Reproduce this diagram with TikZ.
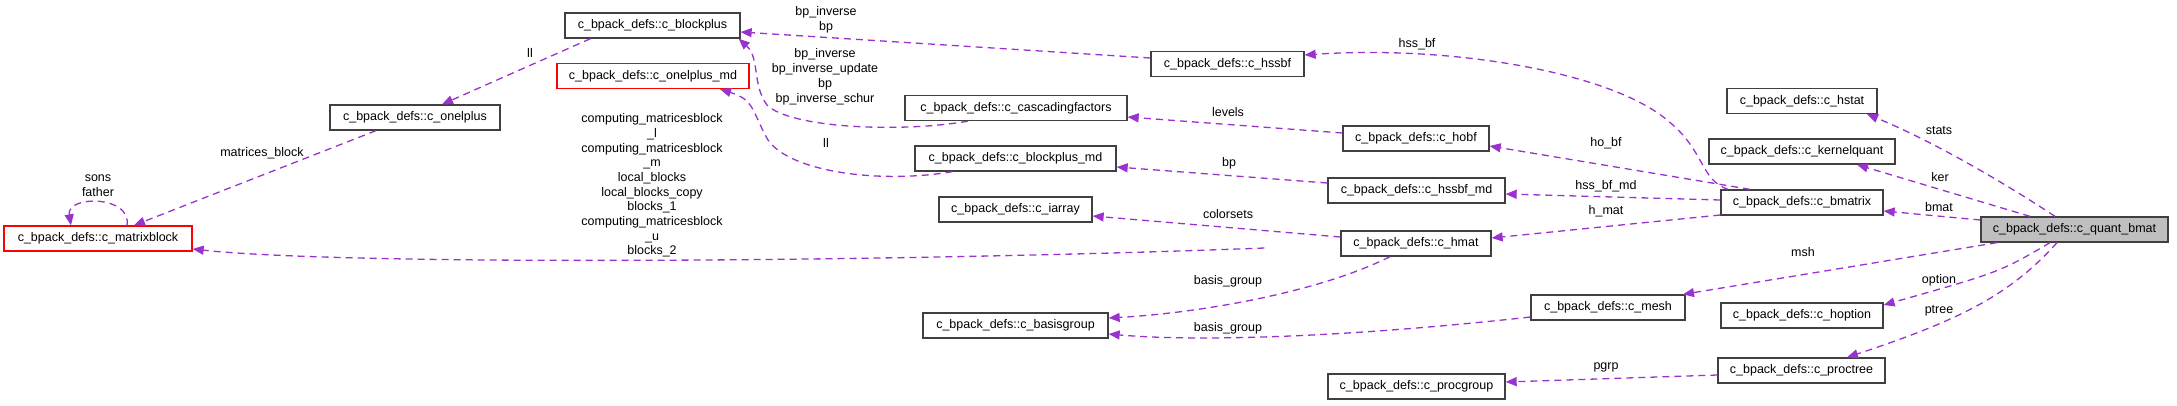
\documentclass[tikz,border=0pt]{standalone}
\usepackage{fontspec}
\setmainfont{Liberation Sans}
\usetikzlibrary{arrows.meta}
\definecolor{edgepurple}{RGB}{154,50,205}
\tikzset{every picture/.style={line width=1.3pt}}
\tikzset{
  cls/.style={draw={rgb, 255:red, 64; green, 64; blue, 64}, fill=white, minimum height=25pt, inner sep=0pt, font=\fontsize{12.5}{14}\selectfont},
  clsred/.style={cls, draw=red},
  clsmain/.style={cls, fill={rgb, 255:red, 191; green, 191; blue, 191}},
  rel/.style={draw=edgepurple, dash pattern=on 7pt off 5pt, -{Triangle[length=11pt,width=9pt,fill=edgepurple]}},
  lbl/.style={inner sep=0pt, align=center, font=\fontsize{12.5}{15}\selectfont}
}

\begin{document}
\begin{tikzpicture}[x=1pt,y=1pt,yscale=-1,xscale=1]
\path[use as bounding box] (0,0) rectangle (2177,405);

%Node: classes
\node[clsred, minimum width=188pt] (mblk) at (98,238.5) {c\_bpack\_defs::c\_matrixblock};
\node[cls, minimum width=170pt] (onel) at (415,117.5) {c\_bpack\_defs::c\_onelplus};
\node[cls, minimum width=175pt] (bplus) at (652.5,25.5) {c\_bpack\_defs::c\_blockplus};
\node[clsred, minimum width=192pt] (onelmd) at (653,76) {c\_bpack\_defs::c\_onelplus\_md};
\node[cls, minimum width=222pt] (casc) at (1016,108) {c\_bpack\_defs::c\_cascadingfactors};
\node[cls, minimum width=201pt] (bplusmd) at (1015.5,158.5) {c\_bpack\_defs::c\_blockplus\_md};
\node[cls, minimum width=153pt] (iarr) at (1015.5,209.5) {c\_bpack\_defs::c\_iarray};
\node[cls, minimum width=185pt] (bgrp) at (1015.5,325.5) {c\_bpack\_defs::c\_basisgroup};
\node[cls, minimum width=153pt] (hssbf) at (1227.5,64) {c\_bpack\_defs::c\_hssbf};
\node[cls, minimum width=146pt] (hobf) at (1416,138.5) {c\_bpack\_defs::c\_hobf};
\node[cls, minimum width=177pt] (hssbfmd) at (1416.5,190.5) {c\_bpack\_defs::c\_hssbf\_md};
\node[cls, minimum width=150pt] (hmat) at (1416,243.5) {c\_bpack\_defs::c\_hmat};
\node[cls, minimum width=177pt] (pgrp) at (1416.5,386.5) {c\_bpack\_defs::c\_procgroup};
\node[cls, minimum width=154pt] (mesh) at (1608,307.5) {c\_bpack\_defs::c\_mesh};
\node[cls, minimum width=150pt] (hstat) at (1802,101) {c\_bpack\_defs::c\_hstat};
\node[cls, minimum width=186pt] (kquant) at (1802,151.5) {c\_bpack\_defs::c\_kernelquant};
\node[cls, minimum width=162pt] (bmat) at (1802,202.5) {c\_bpack\_defs::c\_bmatrix};
\node[cls, minimum width=162pt] (hopt) at (1802,315.5) {c\_bpack\_defs::c\_hoption};
\node[cls, minimum width=167pt] (ptree) at (1801.5,370.5) {c\_bpack\_defs::c\_proctree};
\node[clsmain, minimum width=187pt] (qbmat) at (2074.5,229.5) {c\_bpack\_defs::c\_quant\_bmat};

%Edge: matrixblock
\draw[rel] ([xshift=29pt]mblk.north) .. controls (132,195) and (66,195) .. ([xshift=-27pt]mblk.north);
\node[lbl] (lsons) at (98,185.5) {sons\\father};
\draw[rel] ([xshift=-39pt]onel.south) -- ([xshift=36pt]mblk.north);
\node[lbl] (lmblock) at (262,153) {matrices\_block};
\draw[rel] ([xshift=-62pt]bplus.south) -- ([xshift=27pt]onel.north);
\node[lbl] (lll) at (530,53) {ll};
\draw[rel] ([xshift=-76pt,yshift=4.5pt]hmat.west) .. controls (900,262) and (350,266) .. ([yshift=10.5pt]mblk.east);
\node[lbl, font=\fontsize{12.5}{14.7}\selectfont] (lblocks) at (652,185.5) {computing\_matricesblock\\\_l\\computing\_matricesblock\\\_m\\local\_blocks\\local\_blocks\_copy\\blocks\_1\\computing\_matricesblock\\\_u\\blocks\_2};

%Edge: blockplus family
\draw[rel] ([yshift=-6pt]hssbf.west) -- ([yshift=6.5pt]bplus.east);
\node[lbl] (lbpinv) at (826,19.5) {bp\_inverse\\bp};
\draw[rel] ([xshift=-48pt]casc.south) .. controls (900,133) and (790,128) .. (767,105) .. controls (752,85) and (760,58) .. ([xshift=-2pt]bplus.south east);
\node[lbl] (lbpinv2) at (825,76.5) {bp\_inverse\\bp\_inverse\_update\\bp\\bp\_inverse\_schur};
\draw[rel] ([xshift=-63pt]bplusmd.south) .. controls (880,184) and (790,172) .. (768,140) .. controls (752,112) and (755,100) .. ([xshift=67pt]onelmd.south);
\node[lbl] (lll2) at (826,143) {ll};

%Edge: middle column
\draw[rel] ([yshift=-5.5pt]hobf.west) -- ([yshift=9pt]casc.east);
\node[lbl] (llevels) at (1228,112) {levels};
\draw[rel] ([yshift=-7.5pt]hssbfmd.west) -- ([yshift=8.5pt]bplusmd.east);
\node[lbl] (lbp) at (1229,163) {bp};
\draw[rel] ([yshift=-6.5pt]hmat.west) -- ([yshift=6.5pt]iarr.east);
\node[lbl] (lcolor) at (1228,214) {colorsets};
\draw[rel] ([xshift=-26pt]hmat.south) .. controls (1320,292) and (1200,313) .. ([yshift=-7.5pt]bgrp.east);
\node[lbl] (lbgrp) at (1228,281) {basis\_group};
\draw[rel] ([yshift=9.5pt]mesh.west) .. controls (1350,337) and (1200,342) .. ([yshift=8.5pt]bgrp.east);
\node[lbl] (lbgrp2) at (1228,328) {basis\_group};

%Edge: bmatrix
\draw[rel] ([xshift=-74pt]bmat.north) .. controls (1700,180) and (1705,150) .. (1667,120) .. controls (1610,72) and (1450,45) .. ([yshift=-9pt]hssbf.east);
\node[lbl] (lhssbf) at (1417,44) {hss\_bf};
\draw[rel] ([xshift=-52pt]bmat.north) -- ([yshift=7.5pt]hobf.east);
\node[lbl] (lhobf) at (1606,143) {ho\_bf};
\draw[rel] ([yshift=-2.5pt]bmat.west) -- ([yshift=3.5pt]hssbfmd.east);
\node[lbl] (lhssbfmd) at (1606,186) {hss\_bf\_md};
\draw[rel] ([yshift=12.5pt]bmat.west) -- ([yshift=-5.5pt]hmat.east);
\node[lbl] (lhmat) at (1606,211) {h\_mat};
\draw[rel] ([yshift=4.5pt]ptree.west) -- ([yshift=-4.5pt]pgrp.east);
\node[lbl] (lpgrp) at (1606,367) {pgrp};

%Edge: quant_bmat
\draw[rel] ([xshift=-19.5pt]qbmat.north) .. controls (2000,180) and (1930,140) .. ([xshift=65pt]hstat.south);
\node[lbl] (lstats) at (1939,131) {stats};
\draw[rel] ([xshift=-44.5pt]qbmat.north) -- ([xshift=55pt]kquant.south);
\node[lbl] (lker) at (1940,177) {ker};
\draw[rel] ([yshift=-9.5pt]qbmat.west) -- ([yshift=8.5pt]bmat.east);
\node[lbl] (lbmat) at (1939,207) {bmat};
\draw[rel] ([xshift=-77.5pt]qbmat.south) -- ([xshift=75pt]mesh.north);
\node[lbl] (lmsh) at (1803,252) {msh};
\draw[rel] ([xshift=-24.5pt]qbmat.south) .. controls (2000,272) .. ([yshift=-10.5pt]hopt.east);
\node[lbl] (loption) at (1939,280) {option};
\draw[rel] ([xshift=-17.5pt]qbmat.south) .. controls (2010,295) and (1960,320) .. ([xshift=45.5pt]ptree.north);
\node[lbl] (lptree) at (1939,311) {ptree};
\end{tikzpicture}
\end{document}
